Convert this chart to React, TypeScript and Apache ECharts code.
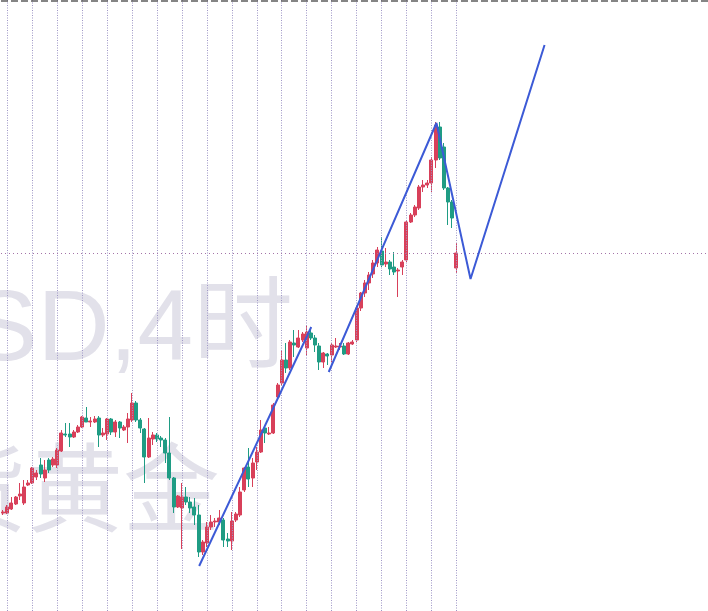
import React, { useEffect, useRef } from "react";
import * as echarts from "echarts";

// 4-hour bar slots (110 drawn candles + empty future slots)
const slots: string[] = Array.from({ length: 170 }, (_, i) => String(i));

// first bar of each trading day (period separators)
const dayStarts = [1, 7, 13, 19, 25, 31, 37, 43, 49, 55, 61, 67, 73, 79, 85, 91, 97, 103, 109];

const opens = [
  2098, 2098, 2102, 2107, 2115, 2108, 2126, 2128, 2134, 2146,
  2133, 2151, 2146, 2146, 2160, 2177, 2177, 2174, 2179, 2184,
  2193, 2189, 2189, 2193, 2176, 2177, 2192, 2179, 2189, 2181,
  2184, 2191, 2208, 2191, 2182, 2154, 2172, 2176, 2173, 2171,
  2158, 2133, 2104, 2103, 2114, 2109, 2104, 2096, 2059, 2068,
  2084, 2089, 2089, 2091, 2072, 2070, 2091, 2096, 2121, 2144,
  2133, 2149, 2159, 2183, 2177, 2178, 2214, 2228, 2251, 2243,
  2268, 2264, 2271, 2263, 2278, 2273, 2265, 2249, 2257, 2256,
  2264, 2264, 2265, 2257, 2267, 2271, 2303, 2318, 2328, 2337,
  2348, 2360, 2347, 2349, 2344, 2340, 2344, 2351, 2389, 2396,
  2403, 2424, 2426, 2428, 2451, 2484, 2464, 2423, 2409, 2343,
];
const closes = [
  2099, 2104, 2108, 2114, 2117, 2124, 2128, 2143, 2138, 2137,
  2141, 2141, 2152, 2161, 2178, 2176, 2174, 2179, 2184, 2194,
  2189, 2190, 2192, 2176, 2178, 2192, 2179, 2189, 2183, 2184,
  2192, 2208, 2191, 2183, 2154, 2173, 2176, 2172, 2171, 2158,
  2133, 2104, 2115, 2114, 2109, 2103, 2096, 2059, 2069, 2084,
  2089, 2090, 2093, 2071, 2070, 2090, 2097, 2119, 2143, 2132,
  2148, 2159, 2181, 2178, 2178, 2206, 2226, 2251, 2243, 2269,
  2266, 2273, 2277, 2279, 2273, 2266, 2249, 2258, 2255, 2266,
  2265, 2265, 2257, 2268, 2269, 2303, 2318, 2328, 2336, 2348,
  2361, 2346, 2349, 2342, 2339, 2341, 2349, 2389, 2396, 2404,
  2424, 2426, 2428, 2451, 2486, 2453, 2423, 2409, 2393, 2358,
];
const lows = [
  2096, 2097, 2101, 2106, 2111, 2106, 2125, 2127, 2131, 2133,
  2129, 2138, 2144, 2143, 2159, 2174, 2164, 2173, 2178, 2183,
  2189, 2184, 2188, 2164, 2174, 2171, 2176, 2174, 2173, 2180,
  2168, 2189, 2189, 2178, 2128, 2153, 2166, 2169, 2164, 2148,
  2131, 2098, 2103, 2062, 2106, 2098, 2086, 2054, 2056, 2064,
  2081, 2084, 2086, 2064, 2064, 2061, 2089, 2094, 2119, 2124,
  2124, 2141, 2158, 2168, 2176, 2177, 2211, 2226, 2238, 2241,
  2254, 2263, 2269, 2256, 2271, 2259, 2241, 2243, 2246, 2249,
  2263, 2261, 2256, 2256, 2266, 2269, 2300, 2314, 2321, 2333,
  2344, 2344, 2344, 2336, 2336, 2314, 2336, 2349, 2388, 2394,
  2401, 2419, 2423, 2419, 2443, 2451, 2421, 2386, 2383, 2338,
];
const highs = [
  2101, 2106, 2114, 2115, 2128, 2131, 2131, 2144, 2141, 2153,
  2151, 2153, 2154, 2163, 2181, 2188, 2188, 2181, 2186, 2195,
  2204, 2194, 2195, 2195, 2183, 2193, 2193, 2191, 2190, 2186,
  2198, 2218, 2210, 2193, 2183, 2193, 2179, 2178, 2175, 2173,
  2194, 2134, 2116, 2128, 2124, 2114, 2113, 2106, 2071, 2089,
  2096, 2093, 2101, 2093, 2078, 2099, 2099, 2124, 2144, 2163,
  2153, 2164, 2191, 2184, 2184, 2208, 2228, 2261, 2268, 2271,
  2281, 2281, 2279, 2286, 2284, 2276, 2268, 2259, 2258, 2268,
  2273, 2268, 2268, 2269, 2271, 2305, 2319, 2331, 2339, 2351,
  2364, 2374, 2363, 2351, 2359, 2343, 2351, 2391, 2398, 2406,
  2426, 2431, 2431, 2454, 2489, 2489, 2468, 2424, 2411, 2368,
];

// hand-drawn trend lines: [bar position, price]
const trendA = [
  [47.15, 2045],
  [74.1, 2284],
];
const trendB = [
  [78.3, 2239],
  [104.2, 2488],
  [112.4, 2332],
  [130.2, 2566],
];

const bidPrice = 2358;
const topLevel = 2610;
const priceMin = 2000;
const priceMax = 2611;

const watermarkLine1 = "XAUUSD,4时";
const watermarkLine2 = "现货黄金";

export default function App() {
  const ref = useRef<HTMLDivElement>(null);

  useEffect(() => {
    if (!ref.current) return;
    const chart = echarts.init(ref.current, undefined, { renderer: "svg" });
    const candles = opens.map((o, i) => [o, closes[i], lows[i], highs[i]]);

    const vLines = dayStarts.map((d) => ({
      xAxis: String(d),
      lineStyle: { color: "#9f97c6", type: [1, 1.5], width: 1 },
    }));

    chart.setOption({
      animation: false,
      backgroundColor: "#ffffff",
      grid: { left: 1, top: 0, width: 710, height: 611, containLabel: false },
      xAxis: [
        { type: "category", data: slots, show: false, boundaryGap: true },
        { type: "value", min: -0.5, max: 169.5, show: false },
      ],
      yAxis: { type: "value", min: priceMin, max: priceMax, show: false, splitLine: { show: false } },
      graphic: [
        {
          type: "text",
          z: 0,
          silent: true,
          x: 293,
          y: 325,
          style: {
            text: watermarkLine1,
            fontSize: 100,
            fontFamily: '"Liberation Sans", "Noto Sans CJK SC", sans-serif',
            fill: "#e2e1ea",
            align: "right",
            verticalAlign: "middle",
          },
        },
        {
          type: "text",
          z: 0,
          silent: true,
          x: 220,
          y: 481,
          style: {
            text: watermarkLine2,
            fontSize: 97,
            fontFamily: '"Noto Sans CJK SC", sans-serif',
            fill: "#e2e1ea",
            align: "right",
            verticalAlign: "middle",
          },
        },
      ],
      series: [
        {
          type: "candlestick",
          data: candles,
          barWidth: 3.5,
          z: 3,
          itemStyle: {
            color: "#d8405a",
            color0: "#1f9c84",
            borderColor: "#d8405a",
            borderColor0: "#1f9c84",
            borderWidth: 1,
          },
          markLine: {
            silent: true,
            symbol: ["none", "none"],
            label: { show: false },
            emphasis: { disabled: true },
            data: [
              ...vLines,
              { yAxis: bidPrice, lineStyle: { color: "#a474a8", type: [1, 3], width: 1 } },
              { yAxis: topLevel, lineStyle: { color: "#5e5e5e", type: [7, 3], width: 1.5 } },
            ],
          },
        },
        {
          type: "line",
          xAxisIndex: 1,
          data: trendA,
          symbol: "none",
          z: 5,
          lineStyle: { color: "#3c5ad6", width: 2 },
        },
        {
          type: "line",
          xAxisIndex: 1,
          data: trendB,
          symbol: "none",
          z: 5,
          lineStyle: { color: "#3c5ad6", width: 2 },
        },
      ],
    });
    return () => chart.dispose();
  }, []);

  return (
    <div
      ref={ref}
      style={{ position: "fixed", left: 0, top: 0, width: 708, height: 611, background: "#fff" }}
    />
  );
}
